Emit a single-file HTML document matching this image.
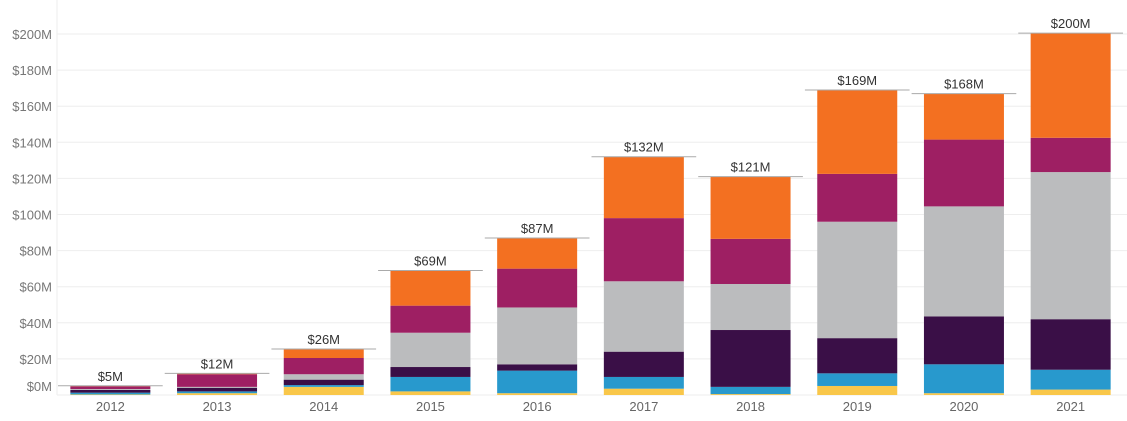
<!DOCTYPE html>
<html><head><meta charset="utf-8"><style>
html,body{margin:0;padding:0;background:#fff;}
svg{display:block;font-family:"Liberation Sans",sans-serif;}
</style></head><body>
<svg id="chart" width="1127" height="421"></svg>
<script>
const years=["2012","2013","2014","2015","2016","2017","2018","2019","2020","2021"];
const yellow=[0.3,1,4.5,2,1,3.5,0.5,5,1,3];
const blue=[1,1,1,8,12.5,6.5,4,7,16,11];
const dark=[1.5,2,3,5.5,3.5,14,31.5,19.5,26.5,28];
const gray=[0.5,0.5,3,19,31.5,39,25.5,64.5,61,81.5];
const magenta=[1.5,7,9,15,21.5,35,25,26.5,37,19];
const orange=[0.3,0.5,5,19.5,17,34,34.5,46.5,25.5,58];
const totalLabels=["$5M","$12M","$26M","$69M","$87M","$132M","$121M","$169M","$168M","$200M"];
const ticks=[0,20,40,60,80,100,120,140,160,180,200];
const series=[["yellow",yellow,"#f9c74a"],["blue",blue,"#2899cd"],["dark-purple",dark,"#3a0f47"],["gray",gray,"#bbbcbe"],["magenta",magenta,"#9e1f63"],["orange",orange,"#f37021"]];
const svg=document.getElementById('chart');
const NS="http://www.w3.org/2000/svg";
const x0=57,band=106.7,bw=80,base=395,scale=1.805;
const y=v=>base-v*scale;
const bx=i=>x0+i*band;
function mk(t,a){const e=document.createElementNS(NS,t);for(const k in a)e.setAttribute(k,a[k]);svg.appendChild(e);return e;}
ticks.forEach((t,i)=>{
  const g=mk('line',{x1:x0,x2:1127,y1:y(t),y2:y(t),stroke:'#eeeeee','stroke-width':1});
  
  
  const l=mk('text',{x:52,y:(t===0?y(t)-4:y(t)+5),'text-anchor':'end','font-size':13,fill:'#777'});
  l.textContent='$'+t+'M';
  
  
});
const ax=mk('line',{x1:x0,x2:x0,y1:0,y2:base,stroke:'#eeeeee','stroke-width':1});


years.forEach((yr,i)=>{
  let acc=0;const cx=bx(i)+band/2;
  series.forEach(([n,arr,c])=>{
    const v=arr[i];
    const r=mk('rect',{x:cx-bw/2,y:y(acc+v),width:bw,height:v*scale,fill:c});
    
    
    acc+=v;
  });
  const ln=mk('line',{x1:bx(i)+1,x2:bx(i)+band-1,y1:y(acc),y2:y(acc),stroke:'#aaa','stroke-width':1});
  
  
  const tl=mk('text',{x:cx,y:y(acc)-5,'text-anchor':'middle','font-size':13,fill:'#333'});
  tl.textContent=totalLabels[i];
  
  
  const xl=mk('text',{x:cx,y:411,'text-anchor':'middle','font-size':13,fill:'#666'});
  xl.textContent=yr;
  
  
});
</script>
</body></html>
